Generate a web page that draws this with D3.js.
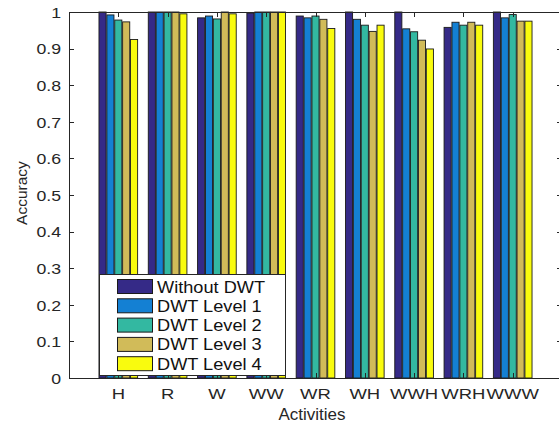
<!DOCTYPE html>
<html>
<head>
<meta charset="utf-8">
<script src="https://cdn.jsdelivr.net/npm/d3@7"></script>
<style>
  html, body { margin: 0; padding: 0; background: #fff; }
  svg { display: block; font-family: "Liberation Sans", Arial, Helvetica, sans-serif; }
</style>
</head>
<body>
<svg id="chart" width="559" height="428"></svg>
<script>
// Accuracy per activity, with and without DWT preprocessing
const categories = ["H", "R", "W", "WW", "WR", "WH", "WWH", "WRH", "WWW"];
const seriesNames = ["Without DWT", "DWT Level 1", "DWT Level 2", "DWT Level 3", "DWT Level 4"];
const withoutDWT = [1.000, 1.000, 0.984, 0.997, 0.989, 1.000, 1.000, 0.958, 1.000];
const dwtLevel1  = [0.992, 1.000, 0.989, 1.000, 0.984, 0.980, 0.954, 0.972, 0.984];
const dwtLevel2  = [0.978, 1.000, 0.981, 1.000, 0.989, 0.964, 0.946, 0.964, 0.993];
const dwtLevel3  = [0.973, 1.000, 1.000, 1.000, 0.980, 0.947, 0.923, 0.972, 0.975];
const dwtLevel4  = [0.925, 0.995, 0.995, 1.000, 0.955, 0.964, 0.899, 0.964, 0.975];
const yTicks = [0, 0.1, 0.2, 0.3, 0.4, 0.5, 0.6, 0.7, 0.8, 0.9, 1];
const colors = ["#352A87", "#1480D3", "#33B8A1", "#D1BB59", "#F9FB0E"];

const series = [withoutDWT, dwtLevel1, dwtLevel2, dwtLevel3, dwtLevel4];

const svg = d3.select("#chart");
const ink = "#262626";
const plot = { left: 69, right: 562, top: 12, bottom: 378 };

// x runs over category slots 1..9 inside [0, 10]
const x = d3.scaleLinear().domain([0, categories.length + 1]).range([plot.left, plot.right]);
const y = d3.scaleLinear().domain([0, 1]).range([plot.bottom, plot.top]);

const slot = x(1) - x(0);
const groupWidth = 0.8 * slot;
const pitch = groupWidth / series.length;
const barW = pitch * 0.9;

// horizontal stretch used for the text to mimic the exported figure
function stretchedText(sel, sx) {
  return sel.attr("transform", function () {
    const tx = +this.getAttribute("data-x"), ty = +this.getAttribute("data-y");
    return `translate(${tx},${ty}) scale(${sx},1)`;
  });
}

// bars
const g = svg.append("g");
series.forEach((vals, si) => {
  g.append("g").selectAll("rect")
    .data(vals)
    .join("rect")
    .attr("x", (d, i) => x(i + 1) - groupWidth / 2 + si * pitch + (pitch - barW) / 2)
    .attr("y", d => y(d))
    .attr("width", barW)
    .attr("height", d => y(0) - y(d))
    .attr("fill", colors[si])
    .attr("stroke", "#1a1a1a")
    .attr("stroke-width", 0.9);
});

// box: left, bottom, top, right lines
const axisG = svg.append("g").attr("stroke", ink).attr("stroke-width", 1).attr("fill", "none");
axisG.append("path").attr("d", `M${plot.left + 0.5},${plot.top}V${plot.bottom + 0.5}H${plot.right}`);
axisG.append("path").attr("d", `M${plot.left + 0.5},${plot.top + 0.5}H${plot.right}V${plot.bottom}`);

// y ticks (inward, both sides)
yTicks.forEach(t => {
  const ty = Math.round(y(t)) + 0.5;
  axisG.append("path").attr("d", `M${plot.left},${ty}h5`);
  axisG.append("path").attr("d", `M${plot.right},${ty}h-5`);
});
// x ticks (inward, top and bottom)
categories.forEach((c, i) => {
  const tx = Math.round(x(i + 1)) + 0.5;
  axisG.append("path").attr("d", `M${tx},${plot.top}v5`);
  axisG.append("path").attr("d", `M${tx},${plot.bottom}v-5`);
});

// y tick labels
svg.append("g").selectAll("text")
  .data(yTicks)
  .join("text")
  .attr("data-x", plot.left - 8)
  .attr("data-y", d => y(d) + 5.8)
  .attr("text-anchor", "end")
  .attr("font-size", 15.4)
  .attr("fill", ink)
  .text(d => d3.format("")(d))
  .call(stretchedText, 1.15);

// x tick labels
svg.append("g").selectAll("text")
  .data(categories)
  .join("text")
  .attr("data-x", (d, i) => x(i + 1))
  .attr("data-y", 399)
  .attr("text-anchor", "middle")
  .attr("font-size", 15.4)
  .attr("fill", ink)
  .text(d => d)
  .call(stretchedText, 1.2);

// axis titles
svg.append("text")
  .attr("x", 312).attr("y", 420)
  .attr("text-anchor", "middle")
  .attr("font-size", 17)
  .attr("fill", ink)
  .text("Activities");

svg.append("text")
  .attr("transform", `translate(27,193) rotate(-90)`)
  .attr("text-anchor", "middle")
  .attr("font-size", 15.5)
  .attr("fill", ink)
  .text("Accuracy");

// legend
const legend = svg.append("g");
legend.append("rect")
  .attr("x", 99.5).attr("y", 274.5)
  .attr("width", 186).attr("height", 101)
  .attr("fill", "#fff")
  .attr("stroke", ink)
  .attr("stroke-width", 1);

const rowPitch = 19.3;
seriesNames.forEach((name, i) => {
  const ry = 279 + i * rowPitch;
  legend.append("rect")
    .attr("x", 117.5).attr("y", ry + 0.5)
    .attr("width", 35).attr("height", 14)
    .attr("fill", colors[i])
    .attr("stroke", "#1a1a1a")
    .attr("stroke-width", 1);
  legend.append("text")
    .attr("data-x", 157)
    .attr("data-y", ry + 13.5)
    .attr("font-size", 17)
    .attr("fill", "#111")
    .text(name)
    .call(stretchedText, 1.07);
});
</script>
</body>
</html>
